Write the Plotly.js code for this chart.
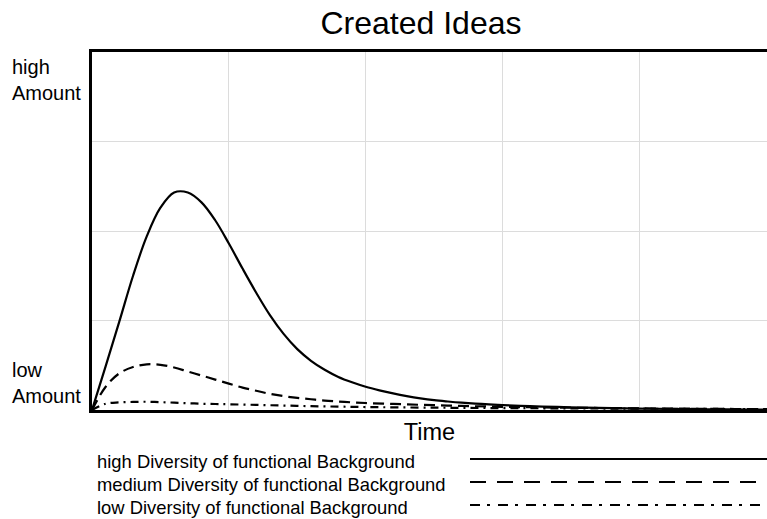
<!DOCTYPE html>
<html>
<head>
<meta charset="utf-8">
<script src="https://cdn.plot.ly/plotly-3.0.1.min.js"></script>
<style>
  html, body { margin: 0; padding: 0; background: #fff; overflow: hidden; }
  #chart { width: 767px; height: 519px; }
</style>
</head>
<body>
<div id="chart"></div>
<script>
// ---- Data ----
const titleText = "Created Ideas";
const xTitle = "Time";
const yTickLabels = ["low<br>Amount", "high<br>Amount"];
const seriesNames = [
  "high Diversity of functional Background",
  "medium Diversity of functional Background",
  "low Diversity of functional Background"
];

const tHigh = [0, 1, 2, 3, 4, 5, 6, 7, 8, 9, 10, 11, 12, 13, 14, 15, 16, 17, 18, 19, 20, 21, 22, 23, 24, 25, 26, 27, 28, 29, 30, 32, 34, 36, 38, 40, 42, 44, 46, 48, 50];
const vHigh = [0, 0.49, 0.99, 1.50, 1.94, 2.26, 2.43, 2.43, 2.32, 2.12, 1.86, 1.58, 1.31, 1.06, 0.85, 0.68, 0.55, 0.45, 0.37, 0.31, 0.26, 0.22, 0.185, 0.155, 0.13, 0.11, 0.095, 0.082, 0.072, 0.063, 0.055, 0.043, 0.034, 0.027, 0.021, 0.016, 0.012, 0.009, 0.007, 0.005, 0.004];

const tMed = [0, 1, 2, 3, 4, 5, 6, 7, 8, 9, 10, 11, 12, 13, 14, 15, 16, 17, 18, 19, 20, 22, 24, 26, 28, 30, 32, 34, 36, 38, 40, 42, 44, 46, 48, 50];
const vMed = [0, 0.26, 0.41, 0.48, 0.51, 0.505, 0.475, 0.43, 0.385, 0.34, 0.295, 0.25, 0.215, 0.18, 0.155, 0.135, 0.12, 0.105, 0.095, 0.085, 0.078, 0.068, 0.058, 0.05, 0.042, 0.036, 0.031, 0.027, 0.024, 0.021, 0.018, 0.016, 0.014, 0.012, 0.011, 0.01];

const tLow = [0, 1, 2, 3, 4, 5, 6, 7, 8, 9, 10, 12, 14, 16, 18, 20, 25, 30, 35, 40, 45, 50];
const vLow = [0, 0.07, 0.085, 0.09, 0.092, 0.088, 0.082, 0.076, 0.07, 0.067, 0.064, 0.057, 0.05, 0.043, 0.038, 0.033, 0.026, 0.021, 0.018, 0.015, 0.012, 0.01];

// ---- Layout geometry ----
const W = 767, H = 519;
const M = { l: 92, r: 0, t: 52, b: 109 };
const PW = W - M.l - M.r, PH = H - M.t - M.b;
const px2x = (px) => (px - M.l) / PW;
const py2y = (py) => (H - M.b - py) / PH;

const font = "Liberation Sans, Arial, Helvetica, sans-serif";
const plotDashes = ["solid", "11px,6px", "8px,5px,2px,5px"];
const legendDashes = ["solid", "16px,11px", "10px,7px,3px,8px"];

const traces = [
  { x: tHigh, y: vHigh, name: seriesNames[0], mode: "lines", line: { color: "#000", width: 2.2, dash: plotDashes[0], shape: "spline", smoothing: 1 } },
  { x: tMed, y: vMed, name: seriesNames[1], mode: "lines", line: { color: "#000", width: 2.2, dash: plotDashes[1], shape: "spline", smoothing: 1 } },
  { x: tLow, y: vLow, name: seriesNames[2], mode: "lines", line: { color: "#000", width: 2.2, dash: plotDashes[2], shape: "spline", smoothing: 1 } }
];

const annotations = [];
const shapes = [];

// y-axis end labels
annotations.push({
  xref: "paper", yref: "paper", x: px2x(10), y: py2y(54), xanchor: "left", yanchor: "top",
  text: yTickLabels[1], showarrow: false, align: "left", font: { family: font, size: 20, color: "#000" }
});
annotations.push({
  xref: "paper", yref: "paper", x: px2x(10), y: py2y(357), xanchor: "left", yanchor: "top",
  text: yTickLabels[0], showarrow: false, align: "left", font: { family: font, size: 20, color: "#000" }
});

// custom legend: text left, line sample right
const legRowY = [461, 484, 507];
seriesNames.forEach((n, i) => {
  annotations.push({
    xref: "paper", yref: "paper", x: px2x(95), y: py2y(legRowY[i]), xanchor: "left", yanchor: "middle",
    text: n, showarrow: false, align: "left", font: { family: font, size: 18.4, color: "#000" }
  });
  shapes.push({
    type: "line", xref: "paper", yref: "paper",
    x0: px2x(470), x1: px2x(767), y0: py2y(legRowY[i] - 2), y1: py2y(legRowY[i] - 2),
    line: { color: "#000", width: 2, dash: legendDashes[i] }
  });
});

const layout = {
  width: W, height: H,
  margin: M,
  paper_bgcolor: "#fff", plot_bgcolor: "#fff",
  showlegend: false,
  title: {
    text: titleText, xref: "container", yref: "container",
    x: 421 / W, xanchor: "center", y: 1 - 23 / H, yanchor: "middle",
    font: { family: font, size: 32, color: "#000" }
  },
  xaxis: {
    range: [0, 49.32], dtick: 10, tick0: 0,
    showgrid: true, gridcolor: "#dcdcdc", gridwidth: 1,
    showline: true, linecolor: "#000", linewidth: 3, mirror: true,
    zeroline: false, showticklabels: false, ticks: "",
    title: { text: xTitle, standoff: 12, font: { family: font, size: 23.5, color: "#000" } }
  },
  yaxis: {
    range: [0, 4], dtick: 1, tick0: 0,
    showgrid: true, gridcolor: "#dcdcdc", gridwidth: 1,
    showline: true, linecolor: "#000", linewidth: 3, mirror: false,
    zeroline: false, showticklabels: false, ticks: ""
  },
  annotations: annotations,
  shapes: shapes
};

Plotly.newPlot("chart", traces, layout, { staticPlot: true, displayModeBar: false });
</script>
</body>
</html>
